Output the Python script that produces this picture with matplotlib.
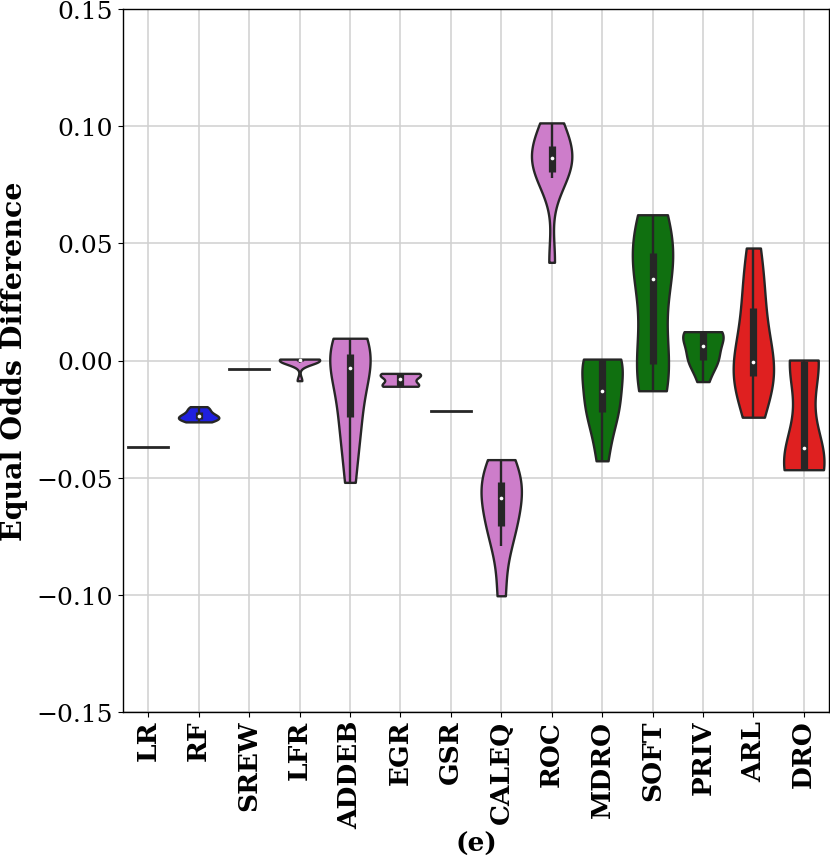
#!/usr/bin/env python3

# violin plot of equal odds difference per method, panel (e)

import matplotlib as mpl
from matplotlib import pyplot as plt
import numpy as np

mpl.rcParams["font.family"] = "DejaVu Serif"

methods = ["LR", "RF", "SREW", "LFR", "ADDEB", "EGR", "GSR",
           "CALEQ", "ROC", "MDRO", "SOFT", "PRIV", "ARL", "DRO"]

# equal odds difference over 10 runs
eod_lr = [-0.0367, -0.0367, -0.0367, -0.0367, -0.0367, -0.0367, -0.0367, -0.0367, -0.0367, -0.0367]
eod_rf = [-0.0262, -0.0255, -0.0250, -0.0246, -0.0240, -0.0236, -0.0230, -0.0215, -0.0205, -0.0197]
eod_srew = [-0.0036, -0.0036, -0.0036, -0.0036, -0.0036, -0.0036, -0.0036, -0.0036, -0.0036, -0.0036]
eod_lfr = [-0.0086, -0.0010, -0.0002, 0.0000, 0.0001, 0.0003, 0.0004, 0.0005, 0.0006, 0.0006]
eod_addeb = [-0.0520, -0.0350, -0.0260, -0.0188, -0.0060, -0.0006, 0.0010, 0.0034, 0.0070, 0.0095]
eod_egr = [-0.0110, -0.0109, -0.0108, -0.0105, -0.0085, -0.0073, -0.0060, -0.0058, -0.0056, -0.0055]
eod_gsr = [-0.0217, -0.0217, -0.0217, -0.0217, -0.0217, -0.0217, -0.0217, -0.0217, -0.0217, -0.0217]
eod_caleq = [-0.1004, -0.0793, -0.0712, -0.0696, -0.0610, -0.0566, -0.0530, -0.0517, -0.0460, -0.0423]
eod_roc = [0.0419, 0.0778, 0.0800, 0.0812, 0.0850, 0.0876, 0.0905, 0.0916, 0.0980, 0.1014]
eod_mdro = [-0.0428, -0.0300, -0.0225, -0.0197, -0.0150, -0.0108, 0.0002, 0.0006, 0.0006, 0.0006]
eod_soft = [-0.0129, -0.0060, -0.0025, 0.0015, 0.0300, 0.0396, 0.0440, 0.0465, 0.0560, 0.0622]
eod_priv = [-0.0090, -0.0020, -0.0003, 0.0010, 0.0050, 0.0076, 0.0118, 0.0121, 0.0122, 0.0123]
eod_arl = [-0.0242, -0.0120, -0.0075, -0.0043, -0.0020, 0.0004, 0.0150, 0.0247, 0.0350, 0.0480]
eod_dro = [-0.0466, -0.0466, -0.0466, -0.0452, -0.0410, -0.0336, -0.0005, 0.0001, 0.0002, 0.0002]

eod_all = [eod_lr, eod_rf, eod_srew, eod_lfr, eod_addeb, eod_egr, eod_gsr,
           eod_caleq, eod_roc, eod_mdro, eod_soft, eod_priv, eod_arl, eod_dro]

# blue / orchid / green / red, desaturated like seaborn does
colors = ["#2020df", "#2020df", "#cd7dca", "#cd7dca", "#cd7dca", "#cd7dca", "#cd7dca",
          "#cd7dca", "#cd7dca", "#107010", "#107010", "#107010", "#df2020", "#df2020"]

linecolor = "#262626"

fig = plt.figure(figsize=(8.3, 8.62), dpi=100)
ax = fig.add_axes([123 / 830, 149 / 862, 706 / 830, 703 / 862])
ax.set_axisbelow(True)

for i, vals in enumerate(eod_all):
    vals = np.array(vals)
    if np.unique(vals).size == 1:
        # no spread, seaborn just draws a flat line
        ax.plot([i - 0.4, i + 0.4], [vals[0], vals[0]], color=linecolor, lw=2.0, zorder=2)
        continue

    parts = ax.violinplot([vals], positions=[i], widths=0.8, showmeans=False,
                          showmedians=False, showextrema=False, points=200)
    for body in parts["bodies"]:
        body.set_facecolor(colors[i])
        body.set_edgecolor(linecolor)
        body.set_linewidth(1.7)
        body.set_alpha(1.0)
        body.set_zorder(2)

    # inner box: whiskers, iqr box, white median dot
    q1, med, q3 = np.percentile(vals, [25, 50, 75])
    iqr = q3 - q1
    lo = vals[vals >= q1 - 1.5 * iqr].min()
    hi = vals[vals <= q3 + 1.5 * iqr].max()
    ax.plot([i, i], [lo, hi], color=linecolor, lw=1.7, solid_capstyle="butt", zorder=3)
    ax.plot([i, i], [q1, q3], color=linecolor, lw=5.2, solid_capstyle="butt", zorder=3)
    ax.scatter([i], [med], s=7, color="white", zorder=4, linewidths=0)

ax.set_xlim(-0.5, len(methods) - 0.5)
ax.set_ylim(-0.15, 0.15)
ax.set_yticks([-0.15, -0.10, -0.05, 0.00, 0.05, 0.10, 0.15])
ax.set_yticklabels(["\u22120.15", "\u22120.10", "\u22120.05", "0.00", "0.05", "0.10", "0.15"])
ax.set_xticks(range(len(methods)))
ax.set_xticklabels(methods, rotation=90, fontweight="bold", fontsize=19)
ax.tick_params(axis="y", labelsize=18)
ax.tick_params(axis="x", pad=2)

ax.grid(True, color="#d0d0d0", lw=1.1)
for sp in ax.spines.values():
    sp.set_color("black")
    sp.set_linewidth(1.0)

ax.set_ylabel("Equal Odds Difference", fontsize=20.5, fontweight="bold", labelpad=6)
ax.set_xlabel("(e)", fontsize=19, fontweight="bold", labelpad=2)

plt.savefig("out.png", dpi=100)
